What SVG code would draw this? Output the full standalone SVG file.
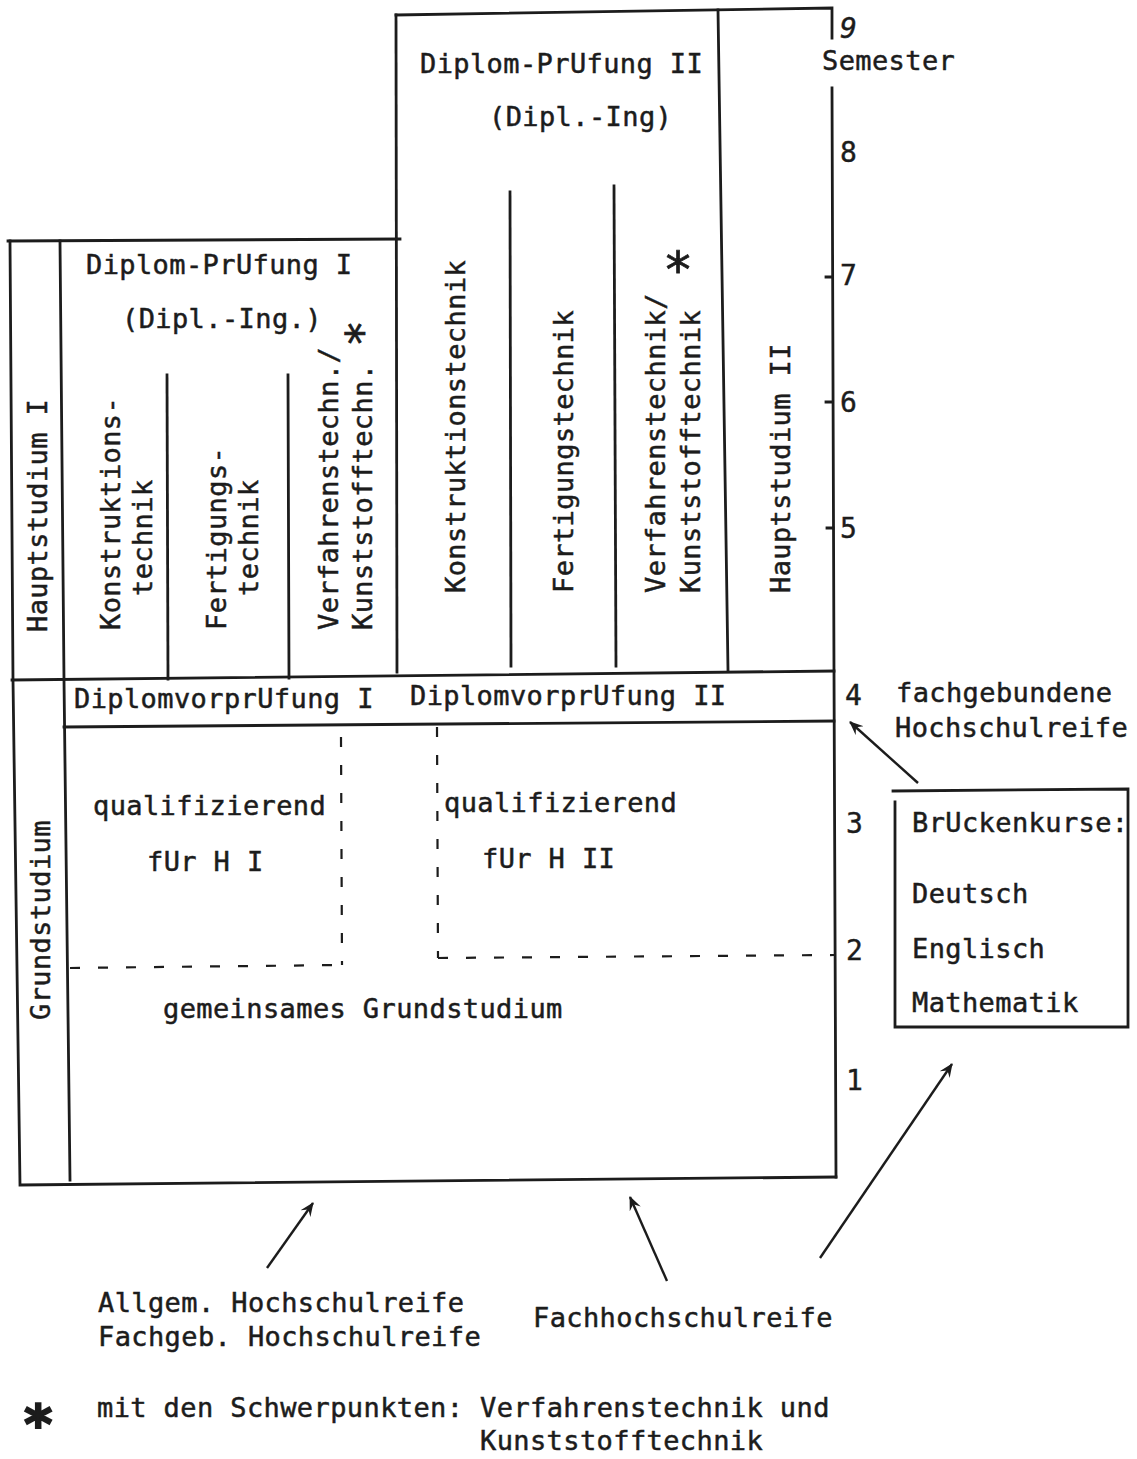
<svg xmlns="http://www.w3.org/2000/svg" width="1137" height="1459" viewBox="0 0 1137 1459">
<defs>
<style>
.t{font-family:"DejaVu Sans Mono","Liberation Mono",monospace;font-size:27px;letter-spacing:0.4px;fill:#1c1c1c;stroke:#1c1c1c;stroke-width:0.5px}
.n{font-family:"DejaVu Sans Mono","Liberation Mono",monospace;font-size:28px;fill:#1c1c1c;stroke:#1c1c1c;stroke-width:0.4px}
.s{font-family:"DejaVu Sans Mono","Liberation Mono",monospace;fill:#1c1c1c;stroke:#1c1c1c;stroke-width:0.8px}
.l{stroke:#1c1c1c;stroke-width:2.8;fill:none;stroke-linecap:square}
.d{stroke:#1c1c1c;stroke-width:2.2;fill:none;stroke-dasharray:10 18}
.a{stroke:#1c1c1c;stroke-width:2.4;fill:none}
</style>
<marker id="ah" viewBox="0 0 14 14" refX="13" refY="7" markerWidth="14" markerHeight="14" markerUnits="userSpaceOnUse" orient="auto">
<path d="M0,1 L14,7 L0,13 L5,7 Z" fill="#1c1c1c"/>
</marker>
</defs>
<rect width="1137" height="1459" fill="#fff"/>

<g id="frame">
<path class="l" d="M396,15 L832,8 L832,38"/>
<path class="l" d="M832,88 L834,671 L836,1177"/>
<path class="l" d="M396,15 L397,672"/>
<path class="l" d="M8,241 L400,239"/>
<path class="l" d="M10,241 L13,680 L20,1185 L836,1177"/>
<path class="l" d="M60,241 L64,680 L70,1180"/>
<path class="l" d="M12,680 L834,671"/>
<path class="l" d="M64,727 L834,721"/>
<path class="l" d="M167,375 L168,679"/>
<path class="l" d="M288,375 L289,678"/>
<path class="l" d="M510,192 L511,666"/>
<path class="l" d="M614,186 L616,666"/>
<path class="l" d="M718,10 L728,670"/>
<path class="l" d="M826,277 L832,277 M826,402 L832,402 M827,528 L833,528"/>
</g>

<g id="hauptstudium2">
<text class="t" x="420" y="73">Diplom-PrUfung II</text>
<text class="t" x="489" y="126">(Dipl.-Ing)</text>
<text class="t" transform="translate(465,593) rotate(-90)">Konstruktionstechnik</text>
<text class="t" transform="translate(573,593) rotate(-90)">Fertigungstechnik</text>
<text class="t" transform="translate(665,593) rotate(-90)">Verfahrenstechnik/</text>
<text class="t" transform="translate(700,593) rotate(-90)">Kunststofftechnik</text>
<text class="s" x="663" y="287" style="font-size:50px">*</text>
<text class="t" transform="translate(790,593) rotate(-90)">Hauptstudium II</text>
</g>

<g id="hauptstudium1">
<text class="t" x="86" y="274">Diplom-PrUfung I</text>
<text class="t" x="122" y="328">(Dipl.-Ing.)</text>
<text class="t" transform="translate(47,632) rotate(-90)">Hauptstudium I</text>
<text class="t" transform="translate(120,630) rotate(-90)">Konstruktions-</text>
<text class="t" transform="translate(152,596) rotate(-90)">technik</text>
<text class="t" transform="translate(226,630) rotate(-90)">Fertigungs-</text>
<text class="t" transform="translate(258,596) rotate(-90)">technik</text>
<text class="t" transform="translate(338,630) rotate(-90)">Verfahrenstechn./</text>
<text class="t" transform="translate(372,630) rotate(-90)">Kunststofftechn. <tspan class="s" style="font-size:44px" dy="6">*</tspan></text>
</g>

<g id="vorpruefung">
<text class="t" x="74" y="708">DiplomvorprUfung I</text>
<text class="t" x="410" y="705">DiplomvorprUfung II</text>
</g>

<g id="grundstudium">
<text class="t" transform="translate(50,1020) rotate(-90)">Grundstudium</text>
<text class="t" x="93" y="815">qualifizierend</text>
<text class="t" x="147" y="871">fUr H I</text>
<text class="t" x="444" y="812">qualifizierend</text>
<text class="t" x="482" y="868">fUr H II</text>
<text class="t" x="163" y="1018">gemeinsames Grundstudium</text>
<path class="d" d="M341,737 L342,965 M70,968 L342,965"/>
<path class="d" d="M437,727 L438,958 M438,958 L834,955"/>
</g>

<g id="axis">
<text class="n" x="840" y="38" style="font-style:italic">9</text>
<text class="t" x="822" y="70">Semester</text>
<text class="n" x="840" y="162">8</text>
<text class="n" x="840" y="285">7</text>
<text class="n" x="840" y="412">6</text>
<text class="n" x="840" y="538">5</text>
<text class="n" x="845" y="705">4</text>
<text class="n" x="846" y="833">3</text>
<text class="n" x="846" y="960">2</text>
<text class="n" x="846" y="1090">1</text>
</g>

<g id="fachgebunden">
<text class="t" x="896" y="702">fachgebundene</text>
<text class="t" x="895" y="737">Hochschulreife</text>
</g>

<g id="brueckenkurse">
<path class="l" d="M893,791 L1128,789 L1128,1027 L895,1027 L895,802"/>
<text class="t" x="912" y="832">BrUckenkurse:</text>
<text class="t" x="912" y="903">Deutsch</text>
<text class="t" x="912" y="958">Englisch</text>
<text class="t" x="912" y="1012">Mathematik</text>
</g>

<g id="zugang">
<text class="t" x="98" y="1312">Allgem. Hochschulreife</text>
<text class="t" x="98" y="1346">Fachgeb. Hochschulreife</text>
<text class="t" x="533" y="1327">Fachhochschulreife</text>
</g>

<g id="connectors">
<line class="a" x1="918" y1="783" x2="850" y2="722" marker-end="url(#ah)"/>
<line class="a" x1="820" y1="1258" x2="952" y2="1064" marker-end="url(#ah)"/>
<line class="a" x1="267" y1="1268" x2="313" y2="1203" marker-end="url(#ah)"/>
<line class="a" x1="667" y1="1281" x2="630" y2="1197" marker-end="url(#ah)"/>
</g>

<g id="legende">
<text class="s" x="22" y="1443" style="font-size:54px;font-weight:bold;stroke-width:2px">*</text>
<text class="t" x="97" y="1417">mit den Schwerpunkten: Verfahrenstechnik und</text>
<text class="t" x="480" y="1450">Kunststofftechnik</text>
</g>
</svg>
